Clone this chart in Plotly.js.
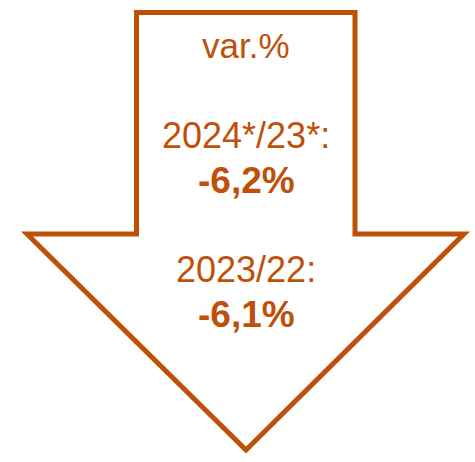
<!DOCTYPE html>
<html>
<head>
<meta charset="utf-8">
<script src="https://cdn.plot.ly/plotly-3.0.1.min.js"></script>
<style>html,body{margin:0;padding:0;background:#fff;}#chart{width:475px;height:462px;}</style>
</head>
<body>
<div id="chart"></div>
<script>
// Data
var headerLabel = "var.%";
var periods = ["2024*/23*:", "2023/22:"];
var changes = [-6.2, -6.1];

var color = "#BF5008";
var font = "Liberation Sans, Arial, sans-serif";

function fmt(v) { return v.toFixed(1).replace(".", ",") + "%"; }

// layout positions (pixel-like data coords)
var periodY = [135, 269];
var valueY = [180, 314];

var annotations = [{
  x: 246, y: 45, xref: "x", yref: "y", text: headerLabel, showarrow: false,
  xanchor: "center", yanchor: "middle", font: {family: font, size: 35, color: color}
}];
for (var i = 0; i < periods.length; i++) {
  annotations.push({
    x: 246, y: periodY[i], xref: "x", yref: "y", text: periods[i], showarrow: false,
    xanchor: "center", yanchor: "middle", font: {family: font, size: 36, color: color}
  });
  annotations.push({
    x: 246, y: valueY[i], xref: "x", yref: "y", text: "<b>" + fmt(changes[i]) + "</b>", showarrow: false,
    xanchor: "center", yanchor: "middle", font: {family: font, size: 37, color: color}
  });
}

var layout = {
  width: 475, height: 462,
  margin: {l: 0, r: 0, t: 0, b: 0},
  paper_bgcolor: "#ffffff", plot_bgcolor: "#ffffff",
  showlegend: false,
  xaxis: {range: [0, 475], visible: false, fixedrange: true},
  yaxis: {range: [462, 0], visible: false, fixedrange: true},
  shapes: [{
    type: "path", xref: "x", yref: "y",
    path: "M 136.5 12.5 L 355 12.5 L 355 234 L 464 234 L 246 450 L 27 234 L 136.5 234 Z",
    line: {color: color, width: 5}, fillcolor: "rgba(0,0,0,0)", layer: "below"
  }],
  annotations: annotations
};

Plotly.newPlot("chart", [], layout, {staticPlot: true, displayModeBar: false});
</script>
</body>
</html>
